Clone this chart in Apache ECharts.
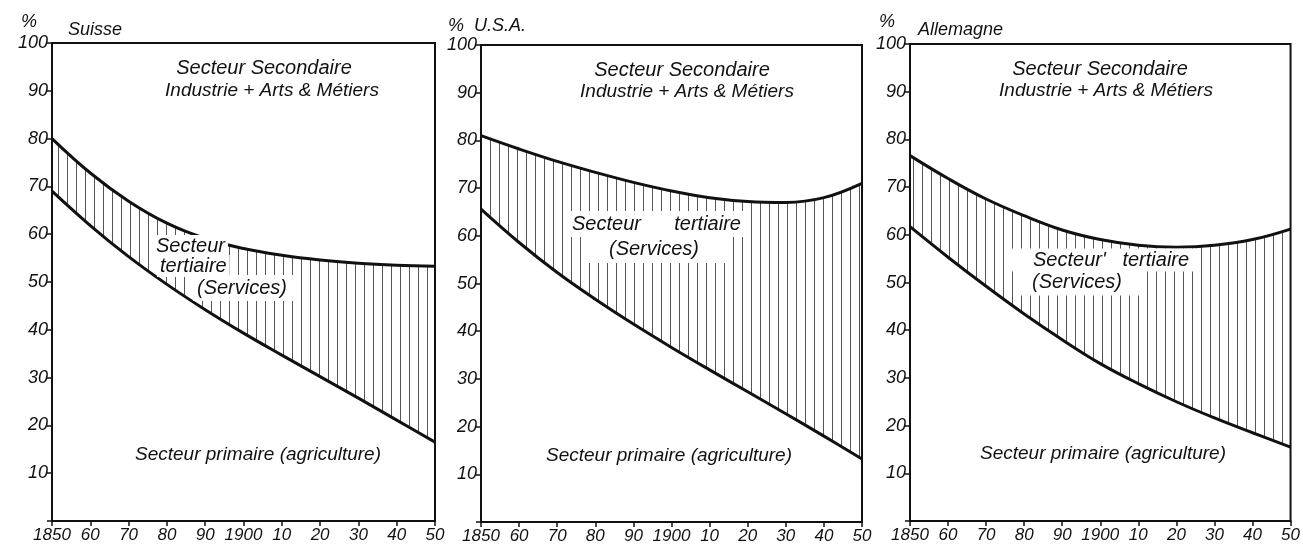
<!DOCTYPE html>
<html>
<head>
<meta charset="utf-8">
<script src="https://cdn.jsdelivr.net/npm/echarts/dist/echarts.min.js"></script>
<style>
html, body { margin: 0; padding: 0; background: #fff; }
#echarts { width: 1303px; height: 551px; }
</style>
</head>
<body>
<div id="echarts"></div>
<script>
// values (share of active population, %)
var years = [1850, 1860, 1870, 1880, 1890, 1900, 1910, 1920, 1930, 1940, 1950];
// primaire (lower curve) and primaire + tertiaire (upper curve)
var suisseLow  = [69, 61.8, 55.3, 49.5, 44.2, 39.3, 34.7, 30.2, 25.7, 21.1, 16.5];
var suisseHigh = [80, 72.8, 66.9, 62.3, 59.1, 57, 55.6, 54.6, 53.9, 53.5, 53.3];
var usaLow  = [65.6, 58.6, 52.3, 46.7, 41.5, 36.6, 31.9, 27.3, 22.7, 18, 13.2];
var usaHigh = [81, 78.2, 75.6, 73.3, 71.2, 69.4, 68, 67.2, 67, 68, 71];
var allemLow  = [61.7, 55.3, 49.2, 43.4, 38, 33, 28.8, 25, 21.6, 18.5, 15.5];
var allemHigh = [76.6, 71.8, 67.5, 64, 61, 59, 57.8, 57.4, 57.8, 59, 61.2];
var yTicks = [10, 20, 30, 40, 50, 60, 70, 80, 90, 100];

var panels = [
    { name: 'Suisse', low: suisseLow, high: suisseHigh, grid: { left: 52, top: 43, width: 383, height: 478 } },
    { name: 'U.S.A.', low: usaLow, high: usaHigh, grid: { left: 481, top: 45, width: 381, height: 477 } },
    { name: 'Allemagne', low: allemLow, high: allemHigh, grid: { left: 910, top: 44, width: 382, height: 477 } }
];

var ink = '#111';
var font = 'italic 19px "Liberation Sans"';
var big = 'italic 20px "Liberation Sans"';

// vertical hatching used between the two curves
var hatch = document.createElement('canvas');
hatch.width = 9;
hatch.height = 20;
var hctx = hatch.getContext('2d');
hctx.fillStyle = '#fff';
hctx.fillRect(0, 0, 9, 20);
hctx.fillStyle = '#555';
hctx.fillRect(4, 0, 1, 20);

var myChart = echarts.init(document.getElementById('echarts'));

var grids = [], xAxes = [], yAxes = [], series = [];
panels.forEach(function (p, i) {
    grids.push({
        left: p.grid.left, top: p.grid.top, width: p.grid.width, height: p.grid.height,
        show: true, z: 10, borderColor: ink, borderWidth: 2, backgroundColor: 'transparent'
    });
    xAxes.push({
        type: 'value', gridIndex: i, min: 1850, max: 1950, interval: 10, z: 10,
        axisLine: { lineStyle: { color: ink, width: 2 } },
        axisTick: { length: 5, lineStyle: { color: ink, width: 1.5 } },
        splitLine: { show: false },
        axisLabel: {
            color: ink, fontFamily: 'Liberation Sans', fontStyle: 'italic', fontSize: 17, margin: 6,
            formatter: function (v) {
                return (v === 1850 || v === 1900) ? String(v) : String(v % 100);
            }
        }
    });
    yAxes.push({
        type: 'value', gridIndex: i, min: 0, max: 100, interval: 10, z: 10,
        axisLine: { lineStyle: { color: ink, width: 2 } },
        axisTick: { length: 5, lineStyle: { color: ink, width: 1.5 } },
        splitLine: { show: false },
        axisLabel: {
            color: ink, fontFamily: 'Liberation Sans', fontStyle: 'italic', fontSize: 18, margin: 4,
            formatter: function (v) { return yTicks.indexOf(v) >= 0 ? String(v) : ''; }
        }
    });
    // upper curve: hatched down to the axis, then the lower curve paints white over its own area
    series.push({
        name: p.name + ' tertiaire', type: 'line', xAxisIndex: i, yAxisIndex: i,
        smooth: 0.4, symbol: 'none',
        data: years.map(function (y, k) { return [y, p.high[k]]; }),
        lineStyle: { color: ink, width: 3 },
        areaStyle: { color: { image: hatch, repeat: 'repeat' }, opacity: 1 }, z: 3
    });
    series.push({
        name: p.name + ' primaire', type: 'line', xAxisIndex: i, yAxisIndex: i,
        smooth: 0.4, symbol: 'none',
        data: years.map(function (y, k) { return [y, p.low[k]]; }),
        lineStyle: { color: ink, width: 3 },
        areaStyle: { color: '#fff', opacity: 1 }, z: 4
    });
});

function txt(s, x, y, opts) {
    opts = opts || {};
    var style = {
        text: s, x: x, y: y, fill: ink,
        font: opts.font || font,
        textAlign: opts.align || 'center', textVerticalAlign: 'middle'
    };
    if (opts.bg) {
        style.backgroundColor = '#fff';
        style.padding = opts.pad || [2, 4];
    }
    return { type: 'text', z: 100, style: style };
}

var head = 'italic 18px "Liberation Sans"';
var graphics = [
    // headers
    txt('%', 21, 22, { align: 'left', font: head }),
    txt('Suisse', 68, 30, { align: 'left', font: head }),
    txt('%  U.S.A.', 448, 26, { align: 'left', font: head }),
    txt('%', 879, 22, { align: 'left', font: head }),
    txt('Allemagne', 918, 30, { align: 'left', font: head }),

    // secteur secondaire
    txt('Secteur Secondaire', 264, 68, { font: big }),
    txt('Industrie + Arts & Métiers', 272, 91),
    txt('Secteur Secondaire', 682, 70, { font: big }),
    txt('Industrie + Arts & Métiers', 687, 92),
    txt('Secteur Secondaire', 1100, 69, { font: big }),
    txt('Industrie + Arts & Métiers', 1106, 91),

    // secteur tertiaire (white boxes break the hatching)
    txt('Secteur', 153, 246, { align: 'left', bg: true, font: big, pad: [1, 3] }),
    txt('tertiaire', 157, 266, { align: 'left', bg: true, font: big, pad: [1, 3] }),
    txt('(Services)', 193, 288, { align: 'left', bg: true, font: big, pad: [2, 10, 4, 4] }),
    txt('Secteur      tertiaire', 566, 224, { align: 'left', bg: true, font: big, pad: [3, 8, 3, 6] }),
    txt('(Services)', 587, 249, { align: 'left', bg: true, font: big, pad: [3, 30, 5, 22] }),
    txt("Secteur'   tertiaire", 1011, 260, { align: 'left', bg: true, font: big, pad: [0, 6, 3, 22] }),
    txt('(Services)', 1014, 282, { align: 'left', bg: true, font: big, pad: [2, 20, 5, 18] }),

    // secteur primaire
    txt('Secteur primaire (agriculture)', 258, 455),
    txt('Secteur primaire (agriculture)', 669, 456),
    txt('Secteur primaire (agriculture)', 1103, 454)
];

var option = {
    animation: false,
    backgroundColor: '#fff',
    grid: grids,
    xAxis: xAxes,
    yAxis: yAxes,
    series: series,
    graphic: { elements: graphics }
};
myChart.setOption(option);
</script>
</body>
</html>
